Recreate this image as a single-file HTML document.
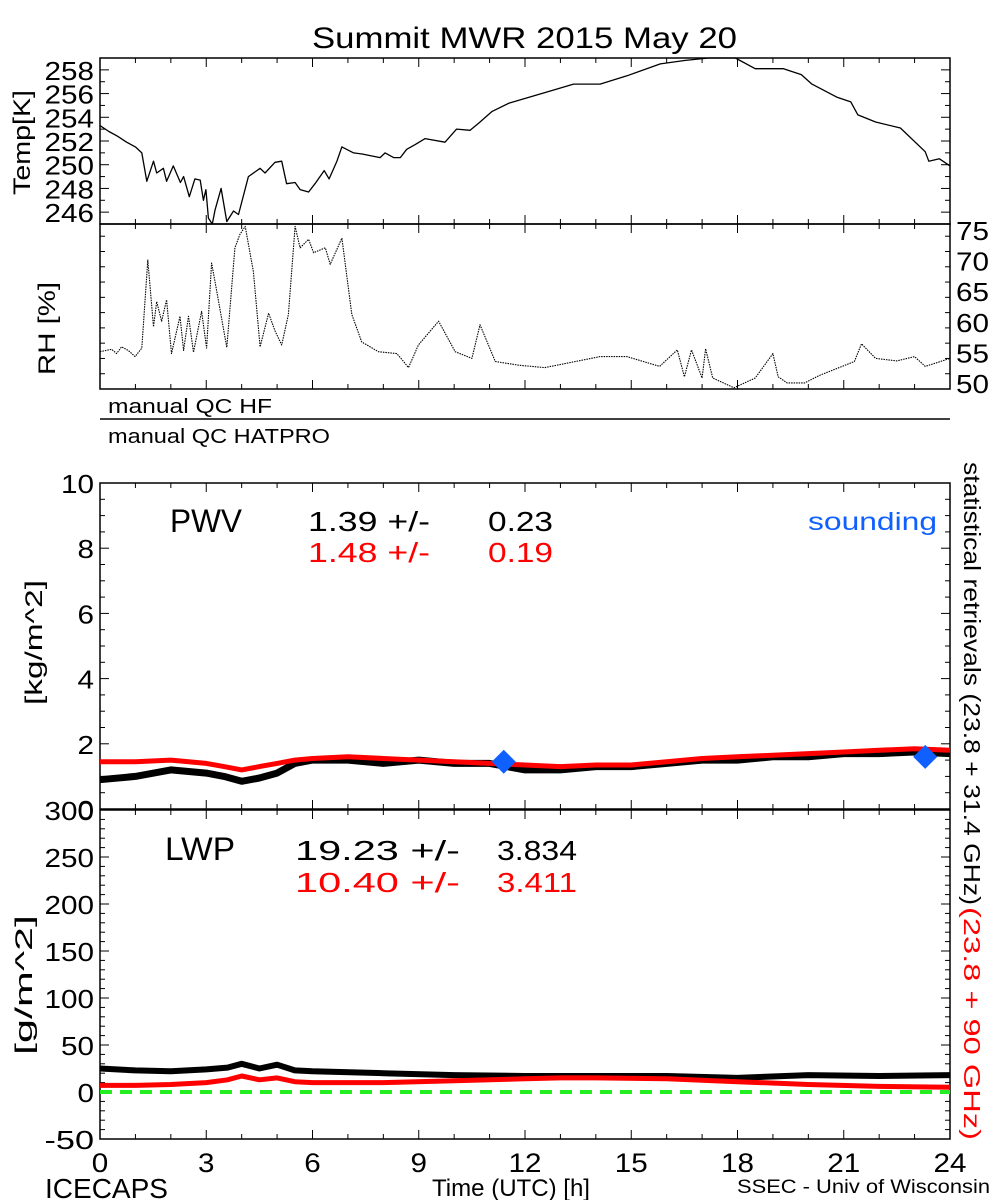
<!DOCTYPE html>
<html><head><meta charset="utf-8">
<style>
html,body{margin:0;padding:0;background:#fff;}
svg{display:block;font-family:"Liberation Sans","DejaVu Sans",sans-serif;}
</style></head>
<body>
<svg id="chart" width="1000" height="1200" viewBox="0 0 1000 1200" xmlns="http://www.w3.org/2000/svg">
<rect width="1000" height="1200" fill="#fff"/>
<text x="312" y="48" font-size="30" textLength="425" lengthAdjust="spacingAndGlyphs">Summit MWR 2015 May 20</text>
<g id="plots"></g>
<text x="108" y="413" font-size="20" textLength="164" lengthAdjust="spacingAndGlyphs">manual QC HF</text>
<line x1="100" y1="419" x2="950" y2="419" stroke="#000" stroke-width="1.5"/>
<text x="108" y="443" font-size="20" textLength="222" lengthAdjust="spacingAndGlyphs">manual QC HATPRO</text>
<text transform="translate(30,195) rotate(-90)" font-size="24" textLength="105" lengthAdjust="spacingAndGlyphs">Temp[K]</text>
<text transform="translate(55,375) rotate(-90)" font-size="24" textLength="93" lengthAdjust="spacingAndGlyphs">RH [%]</text>
<text transform="translate(42,705) rotate(-90)" font-size="24" textLength="125" lengthAdjust="spacingAndGlyphs">[kg/m^2]</text>
<text transform="translate(32,1055) rotate(-90)" font-size="24" textLength="140" lengthAdjust="spacingAndGlyphs">[g/m^2]</text>
<text x="170" y="532" font-size="32" textLength="72" lengthAdjust="spacingAndGlyphs">PWV</text>
<text y="531" font-size="28"><tspan x="308" textLength="122" lengthAdjust="spacingAndGlyphs">1.39 +/-</tspan><tspan x="488" textLength="65" lengthAdjust="spacingAndGlyphs">0.23</tspan></text>
<text y="562" font-size="28" fill="#ff0000"><tspan x="308" textLength="122" lengthAdjust="spacingAndGlyphs">1.48 +/-</tspan><tspan x="488" textLength="65" lengthAdjust="spacingAndGlyphs">0.19</tspan></text>
<text x="808" y="530" font-size="25" fill="#1060ff" textLength="129" lengthAdjust="spacingAndGlyphs">sounding</text>
<text x="165" y="860" font-size="32" textLength="70" lengthAdjust="spacingAndGlyphs">LWP</text>
<text y="860" font-size="28"><tspan x="295" textLength="165" lengthAdjust="spacingAndGlyphs">19.23 +/-</tspan><tspan x="497" textLength="80" lengthAdjust="spacingAndGlyphs">3.834</tspan></text>
<text y="892" font-size="28" fill="#ff0000"><tspan x="295" textLength="165" lengthAdjust="spacingAndGlyphs">10.40 +/-</tspan><tspan x="497" textLength="80" lengthAdjust="spacingAndGlyphs">3.411</tspan></text>
<text transform="translate(964,462) rotate(90)" font-size="23" textLength="443" lengthAdjust="spacingAndGlyphs">statistical retrievals (23.8 + 31.4 GHz)</text>
<text transform="translate(964,907) rotate(90)" font-size="23" fill="#ff0000" textLength="233" lengthAdjust="spacingAndGlyphs">(23.8 + 90 GHz)</text>
<text x="432" y="1196" font-size="24" textLength="158" lengthAdjust="spacingAndGlyphs">Time (UTC) [h]</text>
<text x="45" y="1198" font-size="28" textLength="123" lengthAdjust="spacingAndGlyphs">ICECAPS</text>
<text x="737" y="1193" font-size="19" textLength="253" lengthAdjust="spacingAndGlyphs">SSEC - Univ of Wisconsin</text>
</svg>
<script>
const tempT=[0,0.25,0.5,0.75,1.0,1.18,1.32,1.51,1.6,1.79,1.88,2.07,2.27,2.36,2.52,2.68,2.83,2.92,2.99,3.06,3.17,3.25,3.42,3.58,3.77,3.91,4.19,4.52,4.66,4.94,5.13,5.27,5.51,5.65,5.89,6.07,6.33,6.47,6.69,6.83,7.16,7.4,7.91,8.05,8.29,8.48,8.66,8.9,9.18,9.74,10.07,10.45,10.69,11.07,11.55,12.81,13.37,14.12,14.88,15.82,16.53,17.19,17.47,17.94,18.5,18.97,19.3,19.8,20.1,20.8,21.2,21.4,21.9,22.6,23.3,23.4,23.7,24];
const tempV=[253.3,252.8,252.4,251.9,251.5,251.0,248.6,250.3,249.3,249.7,248.6,249.9,248.5,249.0,247.3,248.8,248.7,247.0,247.9,245.5,245.0,246.2,248.0,245.2,246.1,245.8,249.0,249.7,249.3,250.2,250.3,248.4,248.5,247.9,247.7,248.4,249.5,248.8,250.3,251.5,251.0,250.9,250.6,251.0,250.6,250.6,251.3,251.7,252.2,251.9,253.0,252.9,253.5,254.5,255.2,256.3,256.8,256.8,257.5,258.5,258.8,259.0,259.0,259.0,258.1,258.1,258.1,257.6,256.8,255.7,255.3,254.2,253.6,253.1,251.1,250.3,250.5,249.9];
const rhT=[0,0.33,0.47,0.61,0.8,0.99,1.18,1.35,1.51,1.6,1.74,1.88,2.02,2.26,2.36,2.5,2.64,2.87,3.01,3.15,3.28,3.58,3.81,3.95,4.1,4.33,4.52,4.76,4.94,5.13,5.32,5.51,5.65,5.89,6.03,6.36,6.5,6.83,7.11,7.39,7.86,8.38,8.5,8.71,8.99,9.56,10.03,10.5,10.73,11.16,11.82,12.56,14.12,14.88,15.8,16.3,16.5,16.7,17.0,17.1,17.3,17.9,18.5,19.0,19.15,19.4,19.9,20.3,21.3,21.5,21.9,22.5,23.0,23.3,24];
const rhV=[55.1,55.5,54.8,55.9,55.3,54.3,55.7,70.1,59.2,63.3,60.1,63.6,54.8,60.9,55.3,60.9,55.0,61.7,55.7,69.6,65.5,55.8,72.1,74.3,75.6,68.2,55.9,61.4,58.5,56.2,61.2,75.6,72.1,73.5,71.3,72.1,69.4,73.7,61.2,56.7,55.1,54.8,54.0,52.5,56.2,60.1,55.1,54.0,59.5,53.5,52.9,52.5,54.3,54.3,52.7,55.4,51.0,55.4,50.8,55.6,50.8,49.2,50.8,54.8,51.0,50.0,50.0,51.2,53.5,56.4,54.0,53.6,54.3,52.7,54.0];
const pwvT=[0,1,2,3,3.5,4,4.5,5,5.5,6,7,8,9,10,11,12,13,14,15,16,17,18,19,20,21,22,23,24];
const pwvHF=[0.9,1.0,1.2,1.1,1.0,0.85,0.95,1.1,1.4,1.5,1.5,1.4,1.5,1.4,1.4,1.2,1.2,1.3,1.3,1.4,1.5,1.5,1.6,1.6,1.7,1.7,1.75,1.7];
const pwvHAT=[1.45,1.45,1.5,1.4,1.3,1.2,1.3,1.4,1.5,1.55,1.6,1.55,1.5,1.45,1.4,1.35,1.3,1.35,1.35,1.45,1.55,1.6,1.65,1.7,1.75,1.8,1.85,1.8];
const soundT=[11.4,23.3];
const soundV=[1.45,1.6];
const lwpT=[0,1,2,3,3.6,4,4.5,5,5.5,6,8,10,12,13,14,16,18,20,22,24];
const lwpHF=[25,23,22,24,26,30,25,29,23,22,20,18,17,17,17,17,15,18,17,18];
const lwpHAT=[7,7,8,10,13,17,13,15,11,10,10,12,14,15,15,14,11,8,6,5];
const xTicks=[0,3,6,9,12,15,18,21,24];
const tempTicks=[246,248,250,252,254,256,258];
const rhTicks=[50,55,60,65,70,75];
const pwvTicks=[0,2,4,6,8,10];
const lwpTicks=[-50,0,50,100,150,200,250,300];

const NS='http://www.w3.org/2000/svg';
const g=document.getElementById('plots');
const X0=100,X1=950;
function xs(h){return X0+(h/24)*(X1-X0);}
function mk(tag,attrs,parent){const e=document.createElementNS(NS,tag);for(const k in attrs)e.setAttribute(k,attrs[k]);(parent||g).appendChild(e);return e;}
const panels={
 temp:{top:58,bot:224,min:245,max:259},
 rh:{top:224,bot:389,min:49,max:76},
 pwv:{top:483,bot:809,min:0,max:10},
 lwp:{top:810,bot:1139,min:-50,max:300}
};
function ys(p,v){return p.bot-(v-p.min)/(p.max-p.min)*(p.bot-p.top);}
function frame(name,p){
 const r=mk('rect',{x:X0,y:p.top,width:X1-X0,height:p.bot-p.top,fill:'none',stroke:'#000','stroke-width':1.5});
 
 
 for(let h=0;h<=24;h++){
  const L=(h%3===0)?9:5;
  mk('line',{x1:xs(h),y1:p.bot,x2:xs(h),y2:p.bot-L,stroke:'#000'});
  mk('line',{x1:xs(h),y1:p.top,x2:xs(h),y2:p.top+L,stroke:'#000'});
 }
}
function yticks(name,p,ticks,minor,side,labels){
 for(let v=p.min;v<=p.max+1e-9;v+=minor){
  const y=ys(p,v);const major=ticks.some(t=>Math.abs(t-v)<1e-6);const L=major?9:5;
  mk('line',{x1:X0,y1:y,x2:X0+L,y2:y,stroke:'#000'});
  mk('line',{x1:X1,y1:y,x2:X1-L,y2:y,stroke:'#000'});
 }
 if(!labels)return;
 ticks.forEach(t=>{
  const s=String(t);
  const tx=mk('text',{x:side==='left'?X0-6:X1+6,y:ys(p,t)+10,'font-size':26,'text-anchor':side==='left'?'end':'start',textLength:s.length*16.5,lengthAdjust:'spacingAndGlyphs'});
  
  
  tx.textContent=s;
 });
}
function line(name,p,T,V,color,w,extra){
 const pts=T.map((t,i)=>xs(t).toFixed(1)+','+ys(p,V[i]).toFixed(1)).join(' ');
 const pl=mk('polyline',Object.assign({points:pts,fill:'none',stroke:color,'stroke-width':w,'stroke-linejoin':'round'},extra||{}));
 
 
}
const P=panels;
frame('temp-panel',P.temp);yticks('temp',P.temp,tempTicks,1,'left',true);
frame('rh-panel',P.rh);yticks('rh',P.rh,rhTicks,2.5,'right',true);
frame('pwv-panel',P.pwv);yticks('pwv',P.pwv,pwvTicks,0.5,'left',true);
frame('lwp-panel',P.lwp);yticks('lwp',P.lwp,lwpTicks,10,'left',true);
line('temp-line',P.temp,tempT,tempV,'#000',1.3);
line('rh-line',P.rh,rhT,rhV,'#000',1.1,{'stroke-dasharray':'1.5 1'});
line('pwv-hf-line',P.pwv,pwvT,pwvHF,'#000',7);
line('pwv-hatpro-line',P.pwv,pwvT,pwvHAT,'#ff0000',5);
soundT.forEach((t,i)=>{
 const cx=xs(t),cy=ys(P.pwv,soundV[i]);
 const d=mk('polygon',{points:`${cx},${cy-12} ${cx+12},${cy} ${cx},${cy+12} ${cx-12},${cy}`,fill:'#1060ff'});
 
 
});
const zl=mk('line',{x1:X0,y1:ys(P.lwp,0),x2:X1,y2:ys(P.lwp,0),stroke:'#22ee22','stroke-width':4,'stroke-dasharray':'12 8'});


line('lwp-hf-line',P.lwp,lwpT,lwpHF,'#000',6);
line('lwp-hatpro-line',P.lwp,lwpT,lwpHAT,'#ff0000',5);
xTicks.forEach(t=>{
 const s=String(t);
 const tx=mk('text',{x:xs(t),y:1172,'font-size':27,'text-anchor':'middle',textLength:s.length*16.5,lengthAdjust:'spacingAndGlyphs'});
 
 
 tx.textContent=s;
});
</script>
</body></html>
